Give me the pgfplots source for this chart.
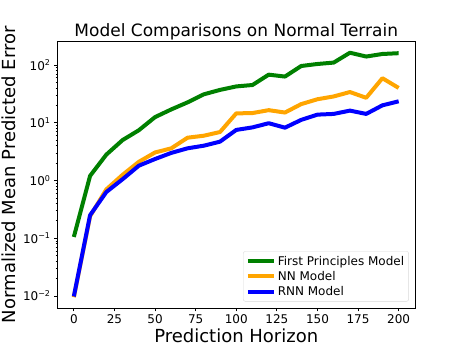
\documentclass[border=0pt]{standalone}
\usepackage{fontspec}
\setmainfont{DejaVu Sans}
\usepackage{pgfplots}
\pgfplotsset{compat=1.18}

\definecolor{mplgreen}{RGB}{0,128,0}
\definecolor{mplorange}{RGB}{255,165,0}
\definecolor{mplblue}{RGB}{0,0,255}

\begin{document}
\begin{tikzpicture}
\useasboundingbox (-57.6pt,-38.1pt) rectangle (403.4pt,307.9pt);
\begin{axis}[
  scale only axis, width=357.3pt, height=266.4pt,
  ymode=log,
  xmin=-10, xmax=210, ymin=0.0062, ymax=255,
  xtick={0,25,...,200},
  ytick={0.01,0.1,1,10,100},
  yticklabels={10\textsuperscript{−2},10\textsuperscript{−1},10\textsuperscript{0},10\textsuperscript{1},10\textsuperscript{2}},
  xtick pos=bottom, ytick pos=left,
  tick align=outside,
  major tick length=3.5pt, minor tick length=2pt,
  /pgf/number format/assume math mode=true,
  tick label style={font=\fontsize{12}{14}\selectfont},
  axis line style={line width=0.8pt},
  every tick/.style={black, line width=0.8pt},
  minor tick style={line width=0.6pt},
  title={Model Comparisons on Normal Terrain},
  title style={font=\fontsize{17}{20}\selectfont, yshift=-8pt},
  xlabel={Prediction Horizon},
  xlabel style={yshift=2.5pt},
  ylabel={Normalized Mean Predicted Error},
  label style={font=\fontsize{18}{21}\selectfont},
  legend style={at={(0.983,0.024)}, anchor=south east, draw=black!15,
    rounded corners=2pt, font=\fontsize{12}{14}\selectfont,
    row sep=0.5pt, inner sep=2.5pt},
  legend cell align=left,
  legend image code/.code={\draw[#1] (0pt,0pt) -- (26pt,0pt);},
  every axis plot/.append style={line width=4pt, line join=round},
]
\addplot[mplgreen] coordinates {(0,0.105) (10,1.2) (20,2.8) (30,5.0) (40,7.4) (50,12.5) (60,17) (70,22.5) (80,31) (90,37) (100,42.5) (110,45) (120,68) (130,63) (140,96) (150,104) (160,110) (170,163) (180,140) (190,155) (200,160)};
\addlegendentry{First Principles Model}
\addplot[mplorange] coordinates {(0,0.0095) (10,0.24) (20,0.70) (30,1.25) (40,2.1) (50,3.05) (60,3.6) (70,5.5) (80,5.95) (90,6.9) (100,14.5) (110,14.7) (120,16.5) (130,15) (140,21) (150,25.5) (160,28.5) (170,34) (180,27) (190,59) (200,40)};
\addlegendentry{NN Model}
\addplot[mplblue] coordinates {(0,0.0098) (10,0.25) (20,0.63) (30,1.05) (40,1.8) (50,2.35) (60,3.0) (70,3.6) (80,4.0) (90,4.7) (100,7.5) (110,8.3) (120,9.8) (130,8.2) (140,11.2) (150,13.8) (160,14.2) (170,16.2) (180,14.2) (190,20) (200,23.5)};
\addlegendentry{RNN Model}
\end{axis}
\end{tikzpicture}
\end{document}
